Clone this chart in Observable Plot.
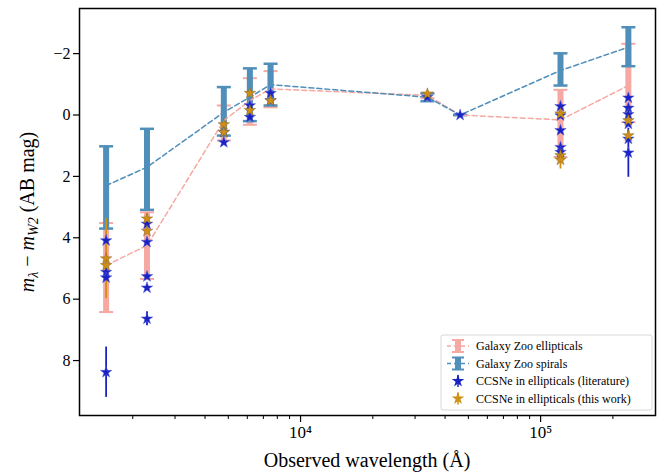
<!DOCTYPE html>
<html><head><meta charset="utf-8">
<script src="https://cdn.jsdelivr.net/npm/d3@7"></script>
<script src="https://cdn.jsdelivr.net/npm/@observablehq/plot@0.6"></script>
<style>body{margin:0;background:#fff}</style>
</head><body><div id="chart"></div>
<script>
// wavelengths (Å) of the bands
const wave = [1549, 2293, 4790, 6150, 7500, 33760, 46200, 121000, 232000]

// Galaxy Zoo medians and ranges
const ellMid = [4.90, 4.25, 0.18, -0.47, -0.85, -0.64, 0, 0.16, -0.96]
const ellLo  = [3.52, 3.17, -0.31, -1.20, -1.43, -0.72, 0, -0.82, -2.32]
const ellHi  = [6.42, 5.34, 0.83, 0.32, -0.25, -0.55, 0, 1.37, 0.23]
const spiMid = [2.30, 1.70, -0.09, -0.58, -0.99, -0.58, 0, -1.45, -2.21]
const spiLo  = [1.02, 0.45, -0.91, -1.52, -1.67, -0.70, 0, -2.01, -2.86]
const spiHi  = [3.70, 3.09, 0.67, 0.20, -0.31, -0.45, 0, -0.96, -1.59]

// CCSNe from literature
const litW = [1549,1549,1549,1549, 2293,2293,2293,2293,2293, 4790,4790, 6150,6150, 7500,7500, 33760, 46200,
  121000,121000,121000,121000,121000, 232000,232000,232000,232000,232000,232000]
const litY = [4.09,5.12,5.30,8.38, 3.55,4.14,5.26,5.63,6.64, 0.56,0.89, -0.31,0.07, -0.71,-0.47, -0.58, 0,
  -0.28,0.02,0.50,1.05,1.21, -0.56,-0.23,-0.02,0.29,0.78,1.23]
const litErr = [0,0,0,0.82, 0,0,0,0,0.23, 0,0,0,0,0,0,0,0, 0,0,0,0,0, 0,0,0,0,0,0.80]

// CCSNe from this work
const newW = [1549,1549, 2293,2293, 4790,4790, 6150,6150, 7500, 33760, 121000,121000,121000, 232000,232000]
const newY = [4.68,4.90, 3.38,3.78, 0.31,0.56, -0.71,-0.15, -0.47, -0.69, -0.04,1.32,1.46, 0.18,0.67]
const newErr = [1.3,0, 0.15,0, 0,0, 0,0, 0.1, 0.1, 0,0,0.3, 0,0]

const pink = "#f5a9a2", blue = "#4f8fba", navy = "#1a22c4", gold = "#cf8f12"
const serif = "Liberation Serif, DejaVu Serif, serif"

const gz = wave.map((w, i) => ({w, em: ellMid[i], el: ellLo[i], eh: ellHi[i], sm: spiMid[i], sl: spiLo[i], sh: spiHi[i]}))
const lit = litW.map((w, i) => ({w, y: litY[i], e: litErr[i]}))
const nw = newW.map((w, i) => ({w, y: newY[i], e: newErr[i]}))

const cap = w => ({draw(ctx, size) { ctx.moveTo(-w, 0); ctx.lineTo(w, 0) }})
const minor = [2000,3000,4000,5000,6000,7000,8000,9000,20000,30000,40000,50000,60000,70000,80000,90000,200000]

const chart = Plot.plot({
  width: 657, height: 472,
  marginLeft: 79, marginRight: 2, marginTop: 8, marginBottom: 57,
  style: {fontFamily: serif, fontSize: "15px", background: "white"},
  x: {type: "log", domain: [1200, 301000]},
  y: {domain: [9.79, -3.47]},
  marks: [
    Plot.frame({stroke: "black", strokeWidth: 1.5}),
    Plot.axisX(minor, {tickSize: 4, tickFormat: () => "", label: null, strokeWidth: 1}),
    Plot.axisX([10000, 100000], {tickSize: 7, tickFormat: d => d === 10000 ? "10⁴" : "10⁵", fontSize: 17, label: null, strokeWidth: 1.2}),
    Plot.axisY([-2, 0, 2, 4, 6, 8], {tickSize: 6, fontSize: 16, label: null, tickFormat: d => d < 0 ? "−" + (-d) : String(d), strokeWidth: 1.2}),
    // galaxy zoo error bars
    Plot.ruleX(gz, {x: "w", y1: "el", y2: "eh", stroke: pink, strokeWidth: 6}),
    Plot.dot(gz, {x: "w", y: "el", symbol: cap(7), stroke: pink, strokeWidth: 2}),
    Plot.dot(gz, {x: "w", y: "eh", symbol: cap(7), stroke: pink, strokeWidth: 2}),
    Plot.ruleX(gz, {x: "w", y1: "sl", y2: "sh", stroke: blue, strokeWidth: 6}),
    Plot.dot(gz, {x: "w", y: "sl", symbol: cap(7), stroke: blue, strokeWidth: 2.5}),
    Plot.dot(gz, {x: "w", y: "sh", symbol: cap(7), stroke: blue, strokeWidth: 2.5}),
    Plot.line(gz, {x: "w", y: "em", stroke: pink, strokeWidth: 1.5, strokeDasharray: "5,3"}),
    Plot.line(gz, {x: "w", y: "sm", stroke: blue, strokeWidth: 1.5, strokeDasharray: "5,3"}),
    // supernovae
    Plot.ruleX(lit.filter(d => d.e > 0), {x: "w", y1: d => d.y - d.e, y2: d => d.y + d.e, stroke: navy, strokeWidth: 1.8}),
    Plot.ruleX(nw.filter(d => d.e > 0), {x: "w", y1: d => d.y - d.e, y2: d => d.y + d.e, stroke: gold, strokeWidth: 1.8}),
    Plot.dot(lit, {x: "w", y: "y", symbol: "star", r: 3.6, fill: navy, stroke: "#4a5ad8", strokeWidth: 0.5}),
    Plot.dot(nw, {x: "w", y: "y", symbol: "star", r: 3.6, fill: gold, stroke: "#8a6a30", strokeWidth: 0.5})
  ]
})

const svg = d3.select(chart)
// axis titles
svg.append("text").attr("x", 367).attr("y", 467).attr("text-anchor", "middle")
  .attr("font-family", serif).attr("font-size", 20).text("Observed wavelength (Å)")
const yl = svg.append("text").attr("transform", "translate(34,212) rotate(-90)").attr("text-anchor", "middle")
  .attr("font-family", serif).attr("font-size", 20)
yl.append("tspan").attr("font-style", "italic").text("m")
yl.append("tspan").attr("font-style", "italic").attr("font-size", 14).attr("dy", 4).text("λ")
yl.append("tspan").attr("dy", -4).text(" − ")
yl.append("tspan").attr("font-style", "italic").text("m")
yl.append("tspan").attr("font-style", "italic").attr("font-size", 14).attr("dy", 4).text("W2")
yl.append("tspan").attr("dy", -4).text(" (AB mag)")

// legend
const lg = svg.append("g").attr("transform", "translate(441,335)").attr("font-family", serif).attr("font-size", 12).attr("text-anchor", "start")
lg.append("rect").attr("width", 211).attr("height", 75).attr("rx", 2).attr("fill", "white").attr("fill-opacity", 0.85).attr("stroke", "#d8d8d8")
const items = [
  {label: "Galaxy Zoo ellipticals", c: pink, kind: "bar"},
  {label: "Galaxy Zoo spirals", c: blue, kind: "bar"},
  {label: "CCSNe in ellipticals (literature)", c: navy, kind: "star"},
  {label: "CCSNe in ellipticals (this work)", c: gold, kind: "star"}
]
items.forEach((it, i) => {
  const y = 11 + i * 17.5
  const g = lg.append("g").attr("transform", `translate(17,${y})`)
  if (it.kind === "bar") {
    g.append("line").attr("x1", -11).attr("x2", 11).attr("stroke", it.c).attr("stroke-width", 1.5).attr("stroke-dasharray", "4,3")
    g.append("line").attr("y1", -6).attr("y2", 6).attr("stroke", it.c).attr("stroke-width", 6)
    g.append("line").attr("x1", -6).attr("x2", 6).attr("y1", -6).attr("y2", -6).attr("stroke", it.c).attr("stroke-width", 2)
    g.append("line").attr("x1", -6).attr("x2", 6).attr("y1", 6).attr("y2", 6).attr("stroke", it.c).attr("stroke-width", 2)
  } else {
    g.append("line").attr("y1", -6).attr("y2", 6).attr("stroke", it.c).attr("stroke-width", 1.5)
    g.append("path").attr("d", d3.symbol(d3.symbolStar, 50)()).attr("fill", it.c)
  }
  lg.append("text").attr("x", 35).attr("y", y + 4).text(it.label)
})

d3.select("#chart").append(() => chart)
</script>
</body></html>
